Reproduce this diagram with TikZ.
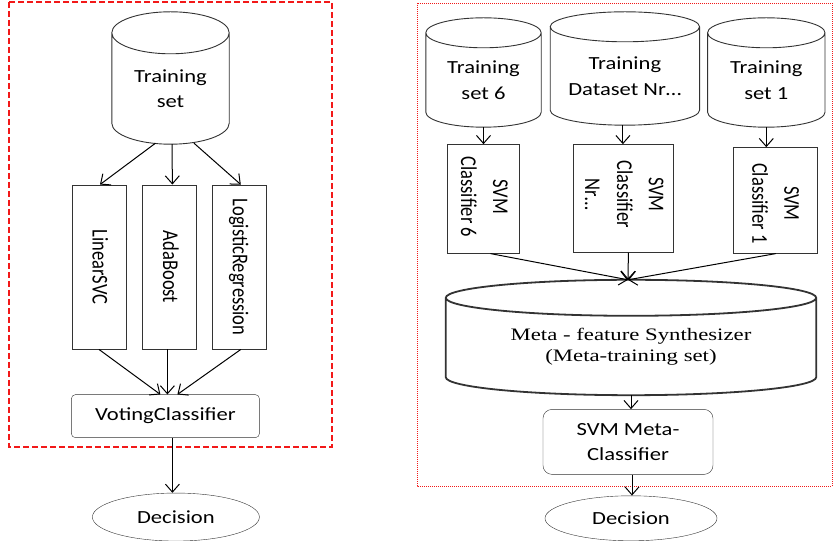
\documentclass[tikz,border=0pt]{standalone}
\usepackage{fontspec}
\usepackage{graphicx}
\setmainfont{Carlito}[FakeStretch=1.22]
\newfontfamily\vfont{Carlito}
\newfontfamily\metafont{Liberation Serif}[FakeStretch=1.3]
\usetikzlibrary{arrows.meta, positioning, calc, shapes.geometric}
\definecolor{FrameRed}{rgb}{0.95, 0.1, 0.1}
\definecolor{LineGray}{rgb}{0.2, 0.2, 0.2}
% hochkant gesetzter Text, quer gestreckt wie im Original
\newcommand{\vtxt}[1]{\scalebox{1}[1.22]{\begin{tabular}{@{}c@{}}#1\end{tabular}}}

\begin{document}
\begin{tikzpicture}[
    x=1pt, y=1pt,
    font=\fontsize{18.5pt}{25.5pt}\selectfont,
    cyl/.style={align=center, inner sep=0pt},
    vbox/.style={draw=LineGray, inner sep=0pt},
    vlbl/.style={rotate=-90, inner sep=0pt, font=\vfont\fontsize{18.5pt}{26.2pt}\selectfont},
    rbox/.style={draw=LineGray, rounded corners=5pt, align=center, inner sep=0pt},
    outcome/.style={draw=LineGray, ellipse, inner sep=0pt},
    flow/.style={-{Straight Barb[length=8pt, width=14pt]}, line width=1pt, black},
]
\useasboundingbox (0,0) rectangle (833,541);

% linker Teil: Voting
\node[cyl, minimum width=117pt, minimum height=111pt] (ts) at (170.5,452.5) {Training\\set};
\node[vbox, minimum width=54pt, minimum height=164.5pt,
      label={[vlbl]center:\vtxt{LinearSVC}}] (lsvc) at (99,274) {};
\node[vbox, minimum width=54pt, minimum height=164.5pt, right=16pt of lsvc,
      label={[vlbl]center:\vtxt{AdaBoost}}] (ada) {};
\node[vbox, minimum width=54pt, minimum height=164.5pt, right=15.5pt of ada,
      label={[vlbl]center:\vtxt{LogisticRegression}}] (logreg) {};
\node[rbox, rounded corners=4pt, minimum width=188pt, minimum height=43pt,
      below=45pt of ada, xshift=-4pt] (vote) {VotingClassifier};
\node[outcome, minimum width=167pt, minimum height=48pt,
      below=55pt of vote, xshift=10.5pt] (dec1) {Decision};

% rechter Teil: Stacking
\node[cyl, minimum width=115pt, minimum height=94pt] (ts6) at (483.5,461) {Training\\set 6};
\node[cyl, minimum width=149pt, minimum height=98pt, right=9pt of ts6, yshift=4pt]
    (tsn) {Training\\Dataset Nr\ldots};
\node[cyl, minimum width=117pt, minimum height=94pt, right=8pt of tsn, yshift=-4pt]
    (ts1) {Training\\set 1};
\node[vbox, minimum width=72pt, minimum height=109pt, below=17pt of ts6,
      label={[vlbl, xshift=-2pt]center:{\vtxt{SVM\\Classifier 6}}}] (svm6) {};
\node[vbox, minimum width=100pt, minimum height=108pt, below=19pt of tsn, xshift=-1.5pt,
      label={[vlbl, xshift=-4pt]center:{\vtxt{SVM\\Classifier\\Nr\ldots}}}] (svmn) {};
\node[vbox, minimum width=84pt, minimum height=106pt, below=20pt of ts1, xshift=8.5pt,
      label={[vlbl, xshift=3pt]center:{\vtxt{SVM\\Classifier 1}}}] (svm1) {};
\node[cyl, minimum width=370pt, minimum height=97pt,
      font=\metafont\fontsize{17.5pt}{21pt}\selectfont] (meta) at (631,194.5)
    {Meta - feature Synthesizer\\(Meta-training set)};
\node[rbox, rounded corners=9pt, minimum width=170pt, minimum height=65pt,
      below=14pt of meta, xshift=-3pt] (svmmeta) {SVM Meta-\\Classifier};
\node[outcome, minimum width=172pt, minimum height=45pt,
      below=21pt of svmmeta, xshift=3pt] (dec2) {Decision};

% Zylinder
\foreach \cname/\cry/\clw in {ts/21/0.9pt, ts6/15/0.9pt, tsn/15/0.9pt, ts1/15/0.9pt, meta/18/1.8pt}
  \draw[LineGray, line width=\clw]
    let \p1=(\cname.north west), \p2=(\cname.south east), \n1={(\x2-\x1)/2} in
    (\x1,\y1) -- (\x1,\y2+\cry pt)
    arc[start angle=180, end angle=360, x radius=\n1, y radius=\cry pt] -- (\x2,\y1)
    arc[start angle=0, end angle=360, x radius=\n1, y radius=\cry pt];
\coordinate (mtop) at ([yshift=18pt]meta.north);

% Rahmen
\draw[FrameRed, line width=1.4pt, dash pattern=on 6pt off 3pt] (9,539) rectangle (332,94);
\draw[FrameRed, line width=0.8pt, dash pattern=on 1pt off 1pt] (417,538) rectangle (832,55);

% Pfeile links
\draw[flow] ([xshift=-15pt, yshift=1pt]ts.south) -- ([xshift=1pt]lsvc.north);
\draw[flow] ([xshift=1.5pt]ts.south) -- ([xshift=3pt]ada.north);
\draw[flow] ([xshift=23.5pt, yshift=1pt]ts.south) -- ([xshift=1.5pt]logreg.north);
\draw[flow] (lsvc.south) -- ([xshift=-5pt]vote.north);
\draw[flow] ([xshift=-2pt]ada.south) -- ([xshift=2pt]vote.north);
\draw[flow] ([xshift=1.5pt]logreg.south) -- ([xshift=12pt]vote.north);
\draw[flow] ([xshift=7pt]vote.south) -- ([xshift=-3.5pt]dec1.north);

% Pfeile rechts
\draw[flow] (ts6.south) -- (ts6.south |- svm6.north);
\draw[flow] ([xshift=-2pt]tsn.south) -- ([xshift=-2pt]tsn.south |- svmn.north);
\draw[flow] (ts1.south) -- (ts1.south |- svm1.north);
\foreach \a/\s in {svm6/7pt, svmn/5pt, svm1/1pt}
  \draw[flow] ([xshift=\s]\a.south) -- ([xshift=-3pt]mtop);
\draw[flow] (meta.south) -- (meta.south |- svmmeta.north);
\draw[flow] ([xshift=4pt]svmmeta.south) -- ([xshift=1pt]dec2.north);

\end{tikzpicture}
\end{document}
